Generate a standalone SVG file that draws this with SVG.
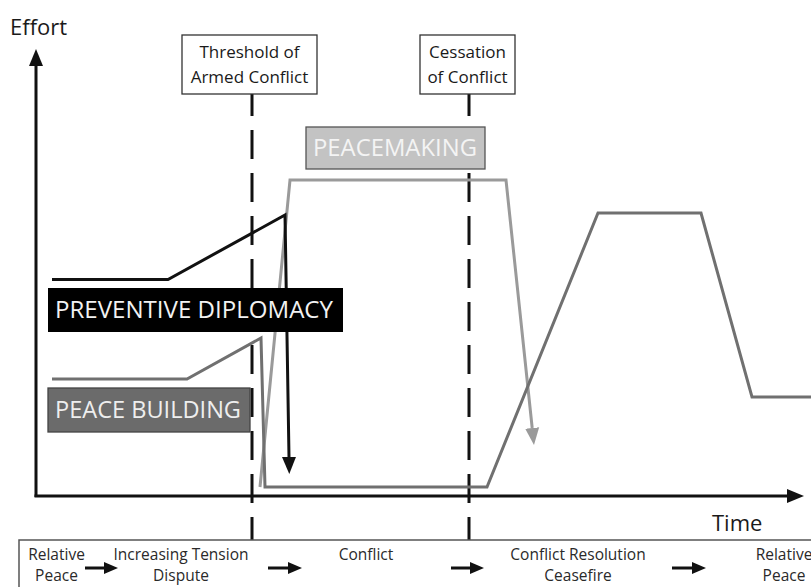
<svg xmlns="http://www.w3.org/2000/svg" width="811" height="587" viewBox="0 0 811 587">
<style>
text{font-family:"Open Sans","Noto Sans",sans-serif;}
.lbl{font-size:17px;fill:#1a1a1a;text-anchor:middle;}
.bot{font-size:15.5px;fill:#2a2a2a;text-anchor:middle;}
.ax{font-size:22px;fill:#1a1a1a;}
.tag{font-size:23px;}
.box{fill:#fff;stroke:#333;stroke-width:1.3;}
.dash{stroke:#111;stroke-width:3;stroke-dasharray:29 14;stroke-dashoffset:7;fill:none;}
.curve{fill:none;stroke-width:3;stroke-linejoin:miter;}
</style>
<defs>
<marker id="ahK" markerUnits="userSpaceOnUse" markerWidth="18" markerHeight="16" viewBox="0 -8 18 16" refX="0" refY="0" orient="auto"><path d="M0,-7 L17,0 L0,7z" fill="#111"/></marker>
<marker id="ahG" markerUnits="userSpaceOnUse" markerWidth="18" markerHeight="16" viewBox="0 -8 18 16" refX="0" refY="0" orient="auto"><path d="M0,-7 L17,0 L0,7z" fill="#9a9a9a"/></marker>
<marker id="ahS" markerUnits="userSpaceOnUse" markerWidth="16" markerHeight="14" viewBox="0 -7 16 14" refX="0" refY="0" orient="auto"><path d="M0,-6 L14,0 L0,6z" fill="#111"/></marker>
</defs>
<rect width="811" height="587" fill="#fff"/>

<g id="axes">
<line x1="36" y1="497" x2="36" y2="66" stroke="#111" stroke-width="3" marker-end="url(#ahK)"/>
<line x1="34.5" y1="496" x2="787" y2="496" stroke="#111" stroke-width="3" marker-end="url(#ahK)"/>
<text class="ax" x="10" y="35">Effort</text>
<text class="ax" x="712" y="531">Time</text>
</g>

<g id="connectors">
<line class="dash" x1="252" y1="94" x2="252" y2="540"/>
<line class="dash" x1="469" y1="94" x2="469" y2="540"/>
<polyline class="curve" stroke="#9a9a9a" points="260,487 290,180 506,180 532.2,428" marker-end="url(#ahG)"/>
<polyline class="curve" stroke="#111" points="52,279.5 168,279.5 285,215 289,457" marker-end="url(#ahK)"/>
<polyline class="curve" stroke="#707070" points="52,379 187,379 261,338 265,487 487,487 598,213 701,213 752,397 815,397"/>
</g>

<g id="threshold">
<rect class="box" x="182" y="35" width="135" height="59"/>
<text class="lbl" x="249.5" y="58">Threshold of</text>
<text class="lbl" x="249.5" y="83">Armed Conflict</text>
</g>

<g id="cessation">
<rect class="box" x="420" y="35" width="95" height="59"/>
<text class="lbl" x="467.5" y="58">Cessation</text>
<text class="lbl" x="467.5" y="83">of Conflict</text>
</g>

<g id="peacemaking">
<rect x="306" y="127" width="179" height="42" fill="#c3c3c3" stroke="#555" stroke-width="1.3"/>
<text class="tag" x="313" y="156" fill="#f4f4f4" textLength="164" lengthAdjust="spacingAndGlyphs">PEACEMAKING</text>
</g>

<g id="preventive">
<rect x="48" y="288" width="295" height="44" fill="#000"/>
<text class="tag" x="55" y="318" fill="#f2f2f2" textLength="278" lengthAdjust="spacingAndGlyphs">PREVENTIVE DIPLOMACY</text>
</g>

<g id="peacebuilding">
<rect x="48" y="388" width="202" height="44" fill="#6b6b6b" stroke="#444" stroke-width="1.3"/>
<text class="tag" x="55" y="418" fill="#eeeeee" textLength="186" lengthAdjust="spacingAndGlyphs">PEACE BUILDING</text>
</g>

<g id="phases">
<rect x="19" y="540" width="800" height="60" fill="none" stroke="#555" stroke-width="1.5"/>
<text class="bot" x="56.5" y="560">Relative</text>
<text class="bot" x="56.5" y="581">Peace</text>
<text class="bot" x="181" y="560">Increasing Tension</text>
<text class="bot" x="181" y="581">Dispute</text>
<text class="bot" x="366" y="560">Conflict</text>
<text class="bot" x="578" y="560">Conflict Resolution</text>
<text class="bot" x="578" y="581">Ceasefire</text>
<text class="bot" x="784" y="560">Relative</text>
<text class="bot" x="784" y="581">Peace</text>
<g stroke="#111" stroke-width="3">
<line x1="85" y1="568" x2="104" y2="568" marker-end="url(#ahS)"/>
<line x1="268" y1="568" x2="288" y2="568" marker-end="url(#ahS)"/>
<line x1="451" y1="568" x2="470" y2="568" marker-end="url(#ahS)"/>
<line x1="672" y1="568" x2="692" y2="568" marker-end="url(#ahS)"/>
</g>
</g>
</svg>
